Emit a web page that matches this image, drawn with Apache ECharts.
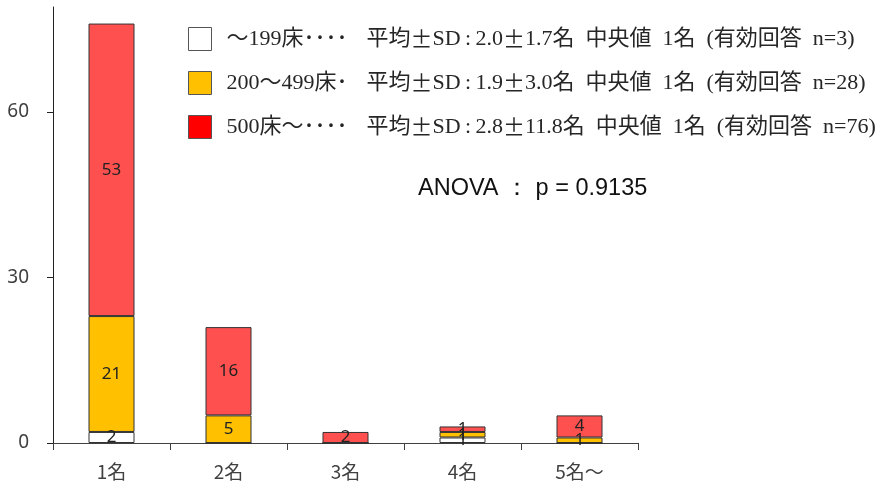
<!DOCTYPE html>
<html>
<head>
<meta charset="utf-8">
<script src="https://cdn.jsdelivr.net/npm/echarts@6/dist/echarts.min.js"></script>
<style>
  html, body { margin: 0; padding: 0; background: #fff; }
  #chart { width: 896px; height: 492px; }
</style>
</head>
<body>
<div id="chart"></div>
<script>
// Number of staff per hospital, stacked by bed-count group
const categories = ['1名', '2名', '3名', '4名', '5名～'];
const small = [2, 0, 0, 1, 0];     // ～199床
const medium = [21, 5, 0, 1, 1];   // 200～499床
const large = [53, 16, 2, 1, 4];   // 500床～
const yTicks = [0, 30, 60];

const seriesNames = ['～199床', '200～499床', '500床～'];
const legendPrefix = ['～199床････', '200～499床･', '500床～････'];
const legendStats = [
  '平均±SD:2.0±1.7名 中央値 1名 (有効回答 n=3)',
  '平均±SD:1.9±3.0名 中央値 1名 (有効回答 n=28)',
  '平均±SD:2.8±11.8名 中央値 1名 (有効回答 n=76)'
];
const anovaText = 'ANOVA ： p = 0.9135';

const barColors = ['#FFFFFF', '#FFC000', '#FF5050'];
const legendColors = ['#FFFFFF', '#FFC000', '#FF0000'];
const values = [small, medium, large];

const serifStack = '"Liberation Serif", "DejaVu Serif", "Noto Sans CJK JP", serif';
const cjkStack = '"Noto Sans CJK JP", sans-serif';
const textColor = '#262626';

// Legend line: spacer, bed-group prefix in a fixed-width column, then the statistics
// (half-width spacing: en spaces and a padded colon, full-width ± signs)
function legendLine(i) {
  const stats = legendStats[i]
    .split(' ').join('\u2002')
    .split(':').join('\u2009:\u2009')
    .split('±').join('}{p|±}{b|');
  return '{s| }{a|' + legendPrefix[i] + '}{b|' + stats + '}';
}

const chart = echarts.init(document.getElementById('chart'));

const labelStyle = {
  show: true,
  position: 'inside',
  color: '#222',
  fontSize: 17,
  fontFamily: '"Noto Sans", "Open Sans", sans-serif',
  formatter: p => (p.value ? String(p.value) : '')
};

chart.setOption({
  animation: false,
  backgroundColor: '#fff',
  grid: { left: 53, right: 258, top: 7, bottom: 49 },
  legend: {
    orient: 'vertical',
    left: 188,
    top: 27,
    padding: 0,
    itemWidth: 23,
    itemHeight: 23,
    itemGap: 20,
    selectedMode: false,
    data: seriesNames.map((n, i) => ({
      name: n,
      icon: 'rect',
      itemStyle: { color: legendColors[i], borderColor: '#555', borderWidth: 1 }
    })),
    formatter: name => legendLine(seriesNames.indexOf(name)),
    textStyle: {
      rich: {
        s: { width: 10, fontSize: 22 },
        a: { width: 140, fontSize: 22, color: textColor, fontFamily: serifStack },
        b: { fontSize: 22, color: textColor, fontFamily: serifStack },
        p: { width: 22, align: 'center', fontSize: 22, color: textColor, fontFamily: cjkStack }
      }
    }
  },
  xAxis: {
    type: 'category',
    data: categories,
    axisLine: { lineStyle: { color: '#404040', width: 1 } },
    axisTick: { show: true, length: 7, lineStyle: { color: '#404040' } },
    axisLabel: {
      color: '#404040',
      fontSize: 19,
      margin: 19,
      fontFamily: cjkStack
    }
  },
  yAxis: {
    type: 'value',
    min: 0,
    max: 79,
    interval: 30,
    splitLine: { show: false },
    axisLine: { show: true, lineStyle: { color: '#222', width: 1 } },
    axisTick: { show: true, length: 6, lineStyle: { color: '#222' }, customValues: yTicks },
    axisLabel: {
      color: '#404040',
      fontSize: 19,
      margin: 24,
      fontFamily: '"Noto Sans", "Open Sans", sans-serif',
      customValues: yTicks
    }
  },
  series: values.map((v, i) => ({
    name: seriesNames[i],
    type: 'bar',
    stack: 'total',
    barWidth: 46,
    data: v,
    itemStyle: { color: barColors[i], borderColor: '#333', borderWidth: 1 },
    label: labelStyle
  })),
  graphic: [{
    type: 'text',
    left: 418,
    top: 177,
    style: {
      text: anovaText,
      fontSize: 23.5,
      fill: '#111',
      fontFamily: '"Liberation Sans", Arial, sans-serif'
    }
  }]
});
</script>
</body>
</html>
